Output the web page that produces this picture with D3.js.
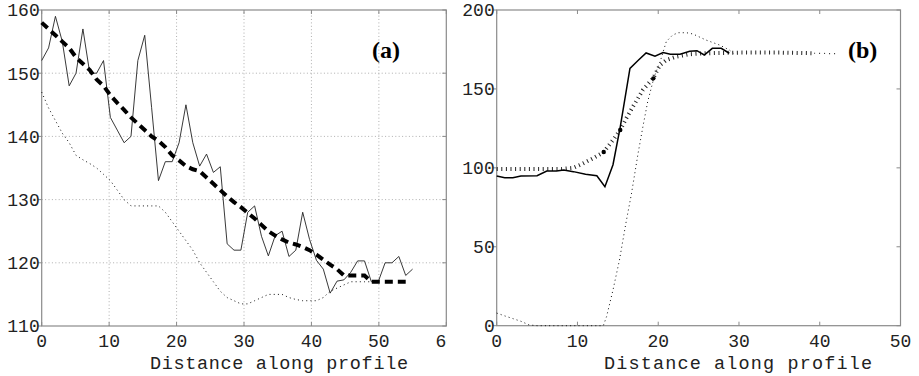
<!DOCTYPE html>
<html><head><meta charset="utf-8">
<script src="https://cdn.jsdelivr.net/npm/d3@7"></script>
<style>body{margin:0;background:#fff}svg{display:block}</style></head>
<body><svg id="c" width="919" height="376"></svg>
<script>
// ---------- Panel (a) data ----------
const aXTicks = [0, 10, 20, 30, 40, 50, 60];
const aYTicks = [110, 120, 130, 140, 150, 160];
const aMeasured = [152, 154, 159, 155, 148, 150, 157, 150, 150, 152,
  143, 141, 139, 140, 152, 156, 144.6, 133, 136, 136,
  139, 145, 139, 135.3, 137.2, 134.3, 135.2, 123, 122, 122,
  128, 129, 124.2, 121.1, 124.3, 125, 121, 122, 128, 123.7,
  120.4, 119, 115.2, 117.1, 117.3, 118.5, 120.3, 120.3, 117, 117,
  120, 120, 121, 118, 119];
const aTrend = [158, 157, 156, 155, 154, 152.5, 151.5, 150.5, 149, 148,
  146.5, 145.3, 144.2, 143, 142, 141, 140, 139.3, 138.3, 137,
  136.2, 135.3, 134.8, 134.5, 133.5, 132.5, 131.5, 130.5, 129.6, 128.8,
  127.9, 127, 126, 125, 124.3, 123.7, 123.2, 122.9, 122.5, 122,
  121.3, 120.5, 119.7, 119, 118, 118, 118, 118, 117, 117,
  117, 117, 117, 117];
const aLower = [147, 144.5, 142.5, 140.5, 139, 137, 136.3, 135.7, 135, 134,
  133, 131.5, 130, 129, 129, 129, 129, 129, 128, 126.5,
  125, 123.5, 122, 120, 118.5, 117, 115.5, 114.5, 114, 113.5,
  113.5, 114, 114.5, 115, 115, 115, 114.5, 114.2, 114, 114,
  114, 114.5, 115.5, 116, 116.5, 117, 117, 117, 117];
const aProfileLength = 55;   // measured samples span 0..55

// ---------- Panel (b) data ----------
const bXTicks = [0, 10, 20, 30, 40, 50];
const bYTicks = [0, 50, 100, 150, 200];
const bSolidX = [0, 1, 2, 3, 5, 6.2, 7.4, 8.3, 9.5, 11, 12.4, 13.4, 14.4, 15.3, 16.5, 17.5, 18.5, 19.6, 20.6, 21.5, 22.7, 23.9, 24.8, 25.7, 26.7, 27.8, 28.8];
const bSolidY = [94.8, 93.8, 93.8, 94.8, 95, 98, 98, 98.6, 97.6, 96, 95, 88, 102, 126, 163, 168, 172.8, 170.8, 173, 172, 172, 173.8, 174.2, 171.5, 175.7, 175.7, 172.6];
const bSmoothX = [0, 2, 4, 6, 8, 9.5, 10.3, 11.9, 13.25, 14.4, 15.3, 16, 16.9, 18.1, 19.4, 20.2, 21, 22.2, 23.9, 26, 30, 35, 39.3];
const bSmoothY = [99.3, 99.3, 99.3, 99.3, 99.3, 100, 101.8, 106, 110, 117.6, 124, 131, 139, 149.3, 157, 165, 168.3, 170.4, 172, 172.6, 173, 173, 172.6];
const bTailX = [39.3, 42];
const bTailY = [172.6, 172.3];
const bMarkX = [13.25, 15.3, 19.4];
const bMarkY = [110, 124, 156.7];
const bThinX = [0, 1, 2, 3, 4, 5, 8, 11, 13.2, 13.6, 14.4, 15.2, 16, 16.7, 17.5, 18.1, 18.7, 19.5, 20.3, 21, 21.8, 22.5, 23.5, 24.3, 25.9, 27.6, 28.8, 29.3];
const bThinY = [8, 6.2, 4.5, 2.8, 0.5, 0, 0, 0, 0, 5.7, 22.6, 41.6, 65, 84, 109, 126, 142, 157.7, 168.3, 180, 184.2, 185.6, 185.6, 184.8, 181, 177.8, 174.7, 172.6];

const svg = d3.select("#c");
const MONO = "'Liberation Mono','DejaVu Sans Mono',monospace";
const AXC = "#8a8a8a";

function frame(g, x, y, xTicks, yTicks, grid) {
  const [x0, x1] = x.range(), [y0, y1] = y.range();
  if (grid) {
    g.selectAll(".gx").data(xTicks.slice(1, -1)).join("line")
      .attr("x1", d => x(d)).attr("x2", d => x(d)).attr("y1", y0).attr("y2", y1)
      .attr("stroke", "#9a9a9a").attr("stroke-width", 0.8).attr("stroke-dasharray", "1,2.4");
    g.selectAll(".gy").data(yTicks.slice(1, -1)).join("line")
      .attr("y1", d => y(d)).attr("y2", d => y(d)).attr("x1", x0).attr("x2", x1)
      .attr("stroke", "#9a9a9a").attr("stroke-width", 0.8).attr("stroke-dasharray", "1,2.4");
  }
  const tk = g.append("g").attr("stroke", AXC).attr("stroke-width", 1);
  xTicks.forEach(d => {
    tk.append("line").attr("x1", x(d)).attr("x2", x(d)).attr("y1", y0).attr("y2", y0 - 4);
    tk.append("line").attr("x1", x(d)).attr("x2", x(d)).attr("y1", y1).attr("y2", y1 + 4);
  });
  yTicks.forEach(d => {
    tk.append("line").attr("y1", y(d)).attr("y2", y(d)).attr("x1", x0).attr("x2", x0 - 4);
    tk.append("line").attr("y1", y(d)).attr("y2", y(d)).attr("x1", x1).attr("x2", x1 - 4);
  });
  g.append("rect").attr("x", x0).attr("y", y1).attr("width", x1 - x0).attr("height", y0 - y1)
    .attr("fill", "none").attr("stroke", AXC).attr("stroke-width", 1.2);
  g.selectAll(".xl").data(xTicks).join("text")
    .attr("x", d => x(d)).attr("y", y0 + 21).attr("text-anchor", "middle")
    .attr("font-family", MONO).attr("font-size", 18).attr("fill", "#222").text(d => d);
  g.selectAll(".yl").data(yTicks).join("text")
    .attr("x", x0 - 2).attr("y", d => y(d)).attr("dy", "0.35em").attr("text-anchor", "end")
    .attr("font-family", MONO).attr("font-size", 18).attr("fill", "#222").text(d => d);
}

// ---------- Panel (a) ----------
const ax = d3.scaleLinear().domain([0, 60]).range([41.7, 446.3]);
const ay = d3.scaleLinear().domain([110, 160]).range([326, 10]);
const ga = svg.append("g");
frame(ga, ax, ay, aXTicks, aYTicks, true);
const step = aProfileLength / (aMeasured.length - 1);
const la = d3.line().x((d, i) => ax(i * step)).y(d => ay(d));
ga.append("path").attr("d", la(aLower)).attr("fill", "none").attr("stroke", "#111")
  .attr("stroke-width", 1).attr("stroke-dasharray", "1,3.2");
ga.append("path").attr("d", la(aMeasured)).attr("fill", "none").attr("stroke", "#222")
  .attr("stroke-width", 0.9);
ga.append("path").attr("d", la(aTrend)).attr("fill", "none").attr("stroke", "#000")
  .attr("stroke-width", 4).attr("stroke-dasharray", "8,5");
ga.append("text").attr("x", 372).attr("y", 58).attr("font-family", "'Liberation Serif',serif")
  .attr("font-weight", "bold").attr("font-size", 24).text("(a)");
ga.append("text").attr("x", 150).attr("y", 369)
  .attr("font-family", MONO).attr("font-size", 18.5).attr("fill", "#222")
  .attr("textLength", 258).attr("lengthAdjust", "spacing").text("Distance along profile");

// white background of panel (b) figure area
svg.append("rect").attr("x", 447).attr("y", 0).attr("width", 472).attr("height", 376).attr("fill", "#fff");

// ---------- Panel (b) ----------
const bx = d3.scaleLinear().domain([0, 50]).range([496.7, 900.5]);
const by = d3.scaleLinear().domain([0, 200]).range([325.7, 10]);
const gb = svg.append("g");
frame(gb, bx, by, bXTicks, bYTicks, false);
const lb = d3.line().x(d => bx(d[0])).y(d => by(d[1]));
gb.append("path").attr("d", lb(bThinX.map((v, i) => [v, bThinY[i]]))).attr("fill", "none")
  .attr("stroke", "#111").attr("stroke-width", 1).attr("stroke-dasharray", "1,3.2");
gb.append("path").attr("d", lb(bSmoothX.map((v, i) => [v, bSmoothY[i]]))).attr("fill", "none")
  .attr("stroke", "#222").attr("stroke-width", 4).attr("stroke-dasharray", "1,3.6");
gb.append("path").attr("d", lb(bTailX.map((v, i) => [v, bTailY[i]]))).attr("fill", "none")
  .attr("stroke", "#333").attr("stroke-width", 1.2).attr("stroke-dasharray", "1,4");
gb.append("path").attr("d", lb(bSolidX.map((v, i) => [v, bSolidY[i]]))).attr("fill", "none")
  .attr("stroke", "#000").attr("stroke-width", 1.5);
gb.selectAll(".mk").data(bMarkX).join("circle")
  .attr("cx", d => bx(d)).attr("cy", (d, i) => by(bMarkY[i])).attr("r", 2.2).attr("fill", "#000");
gb.append("text").attr("x", 848).attr("y", 58).attr("font-family", "'Liberation Serif',serif")
  .attr("font-weight", "bold").attr("font-size", 24).text("(b)");
gb.append("text").attr("x", 604).attr("y", 369)
  .attr("font-family", MONO).attr("font-size", 18.5).attr("fill", "#222")
  .attr("textLength", 268).attr("lengthAdjust", "spacing").text("Distance along profile");
</script></body></html>
